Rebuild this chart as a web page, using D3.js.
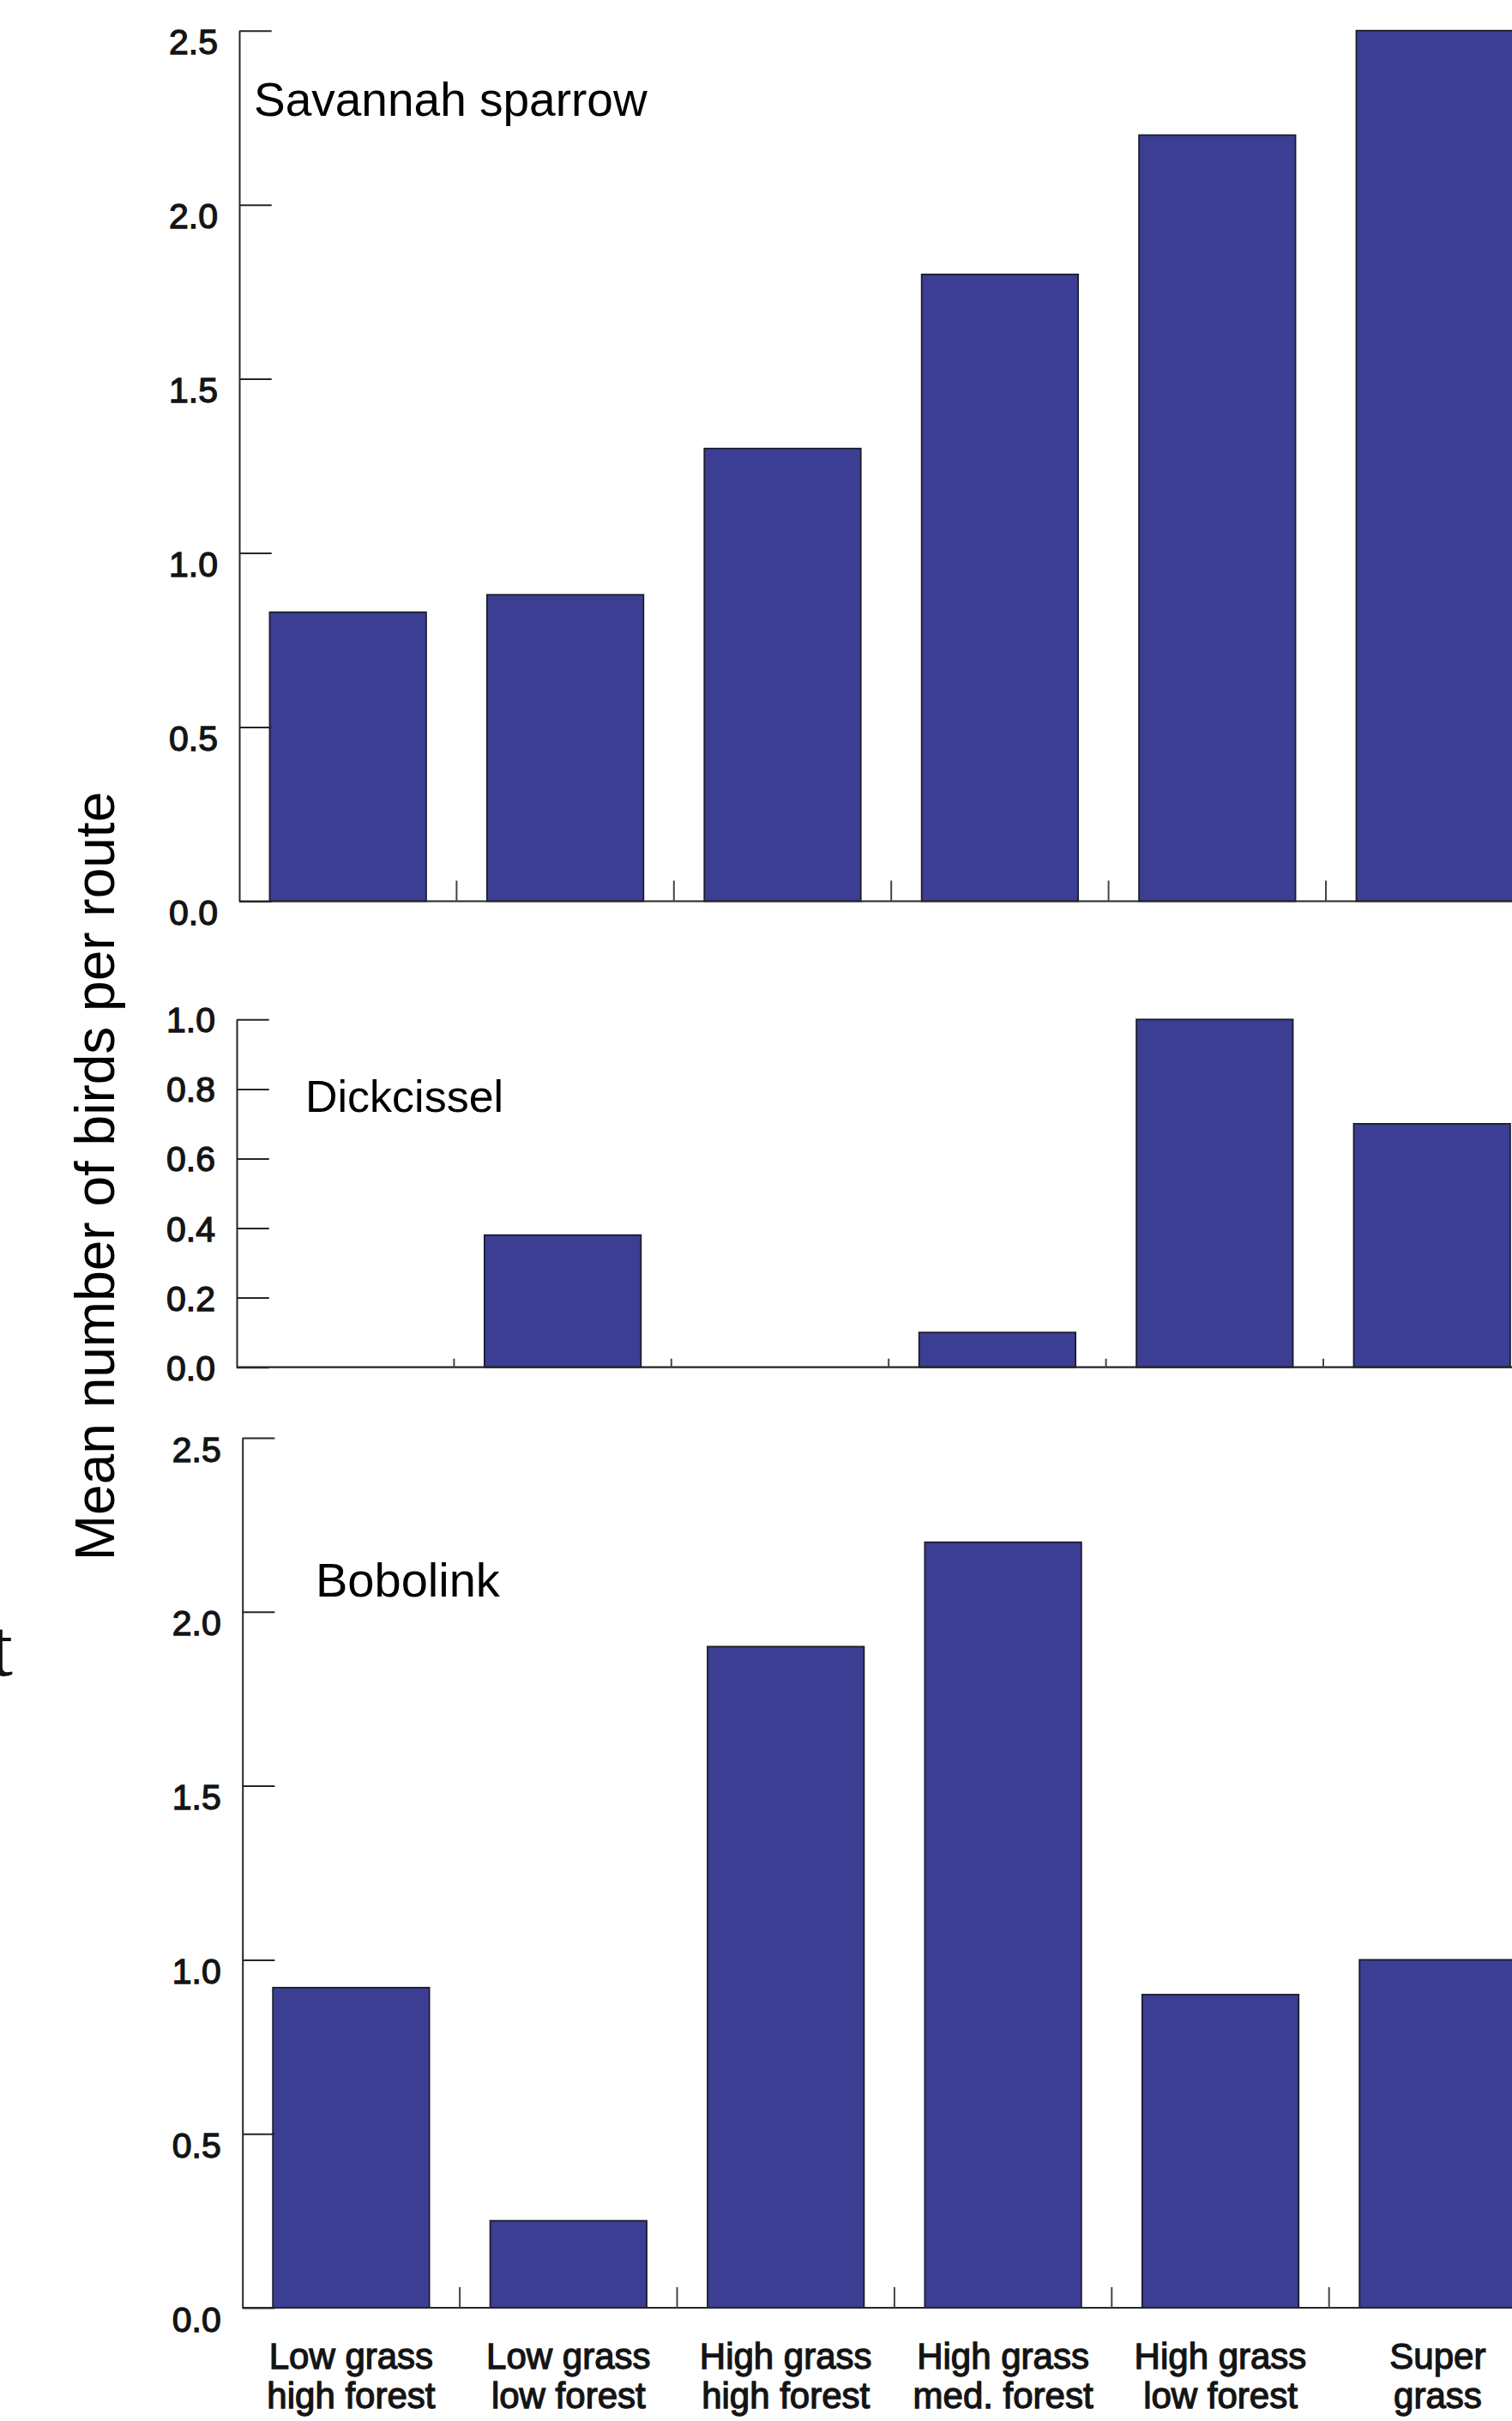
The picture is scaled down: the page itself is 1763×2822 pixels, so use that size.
<!DOCTYPE html>
<meta charset="utf-8">
<title>Mean number of birds per route</title>
<style>
  body { margin: 0; padding: 0; background: #fff; }
  svg { display: block; }
  .species { font-family: 'Liberation Sans', Arial, sans-serif; fill: #000; }
  .ticklab { font-family: 'Liberation Sans', Arial, sans-serif; font-size: 41px; fill: #141414; stroke: #141414; stroke-width: 1.3px; }
</style>
<body>
<div id="chart"></div>
<script src="https://cdn.jsdelivr.net/npm/d3@7"></script>
<script>

var W = 1763, H = 2822;

// categories (two text lines each)
var catTop = ['Low grass','Low grass','High grass','High grass','High grass','Super'],
    catBottom = ['high forest','low forest','high forest','med. forest','low forest','grass'],
    categories = catTop.map(function(t, i) { return t + ' ' + catBottom[i]; });

// series values
var savannah = [0.83, 0.88, 1.30, 1.80, 2.20, 2.50],
    dickcissel = [0.00, 0.38, 0.00, 0.10, 1.00, 0.70],
    bobolink = [0.92, 0.25, 1.90, 2.20, 0.90, 1.00];

// tick values of each panel
var ticksSavannah = [0, 0.5, 1.0, 1.5, 2.0, 2.5],
    ticksDickcissel = [0, 0.2, 0.4, 0.6, 0.8, 1.0],
    ticksBobolink = [0, 0.5, 1.0, 1.5, 2.0, 2.5];

var barFill = '#3b3e92', barStroke = '#1d1d2b', axisColor = '#262626';

var svg = d3.select('#chart').append('svg')
    .attr('width', W).attr('height', H);

svg.append('rect').attr('width', W).attr('height', H).attr('fill', '#fff');

// one panel per species
var panels = [
  { name: 'Savannah sparrow', values: savannah, ticks: ticksSavannah, max: 2.5,
    x0: 279, y0: 1050.5, yTop: 35.7, labX: 296, labY: 135, labSize: 55, tickLen: 24, dy: 27 },
  { name: 'Dickcissel', values: dickcissel, ticks: ticksDickcissel, max: 1.0,
    x0: 276, y0: 1593.7, yTop: 1188.3, labX: 356, labY: 1296, labSize: 52, tickLen: 10, dy: 14.5 },
  { name: 'Bobolink', values: bobolink, ticks: ticksBobolink, max: 2.5,
    x0: 282.7, y0: 2690, yTop: 1676, labX: 368, labY: 1861, labSize: 56, tickLen: 24, dy: 27 }
];

var step = 253.4;

panels.forEach(function(p, pi) {
  var x = d3.scaleBand()
      .domain(categories)
      .range([p.x0, p.x0 + step * categories.length])
      .paddingInner(0.28)
      .paddingOuter(0.14);

  var y = d3.scaleLinear()
      .domain([0, p.max])
      .range([p.y0, p.yTop]);

  var g = svg.append('g').attr('class', 'panel');

  // bars
  g.selectAll('rect.bar')
    .data(p.values)
    .enter().append('rect')
      .attr('class', 'bar')
      .attr('x', function(d, i) { return x(categories[i]); })
      .attr('y', function(d) { return y(d); })
      .attr('width', x.bandwidth())
      .attr('height', function(d) { return y(0) - y(d); })
      .attr('fill', barFill)
      .attr('stroke', barStroke)
      .attr('stroke-width', 1.8);

  // baseline running off to the right edge
  g.append('line')
    .attr('x1', p.x0).attr('x2', W + 20)
    .attr('y1', y(0)).attr('y2', y(0))
    .attr('stroke', axisColor).attr('stroke-width', 2.2);

  // category separators, pointing up
  g.selectAll('line.sep')
    .data(categories.slice(1))
    .enter().append('line')
      .attr('class', 'sep')
      .attr('x1', function(c) { return x(c) - x.step() * x.paddingInner() / 2; })
      .attr('x2', function(c) { return x(c) - x.step() * x.paddingInner() / 2; })
      .attr('y1', y(0)).attr('y2', y(0) - p.tickLen)
      .attr('stroke', '#444').attr('stroke-width', 2);

  // y axis, ticks inward
  var ax = g.append('g')
      .attr('transform', 'translate(' + p.x0 + ',0)')
      .call(d3.axisLeft(y)
        .tickValues(p.ticks)
        .tickFormat(d3.format('.1f'))
        .tickSizeInner(-37.7)
        .tickSizeOuter(0)
        .tickPadding(25));
  ax.select('.domain').attr('stroke', axisColor).attr('stroke-width', 2);
  ax.selectAll('.tick line').attr('stroke', axisColor).attr('stroke-width', 2);
  ax.selectAll('.tick text')
    .attr('class', 'ticklab')
    .attr('dy', null)
    .attr('y', p.dy);
  ax.attr('font-family', null).attr('font-size', null);

  // species name
  g.append('text')
    .attr('class', 'species')
    .attr('x', p.labX).attr('y', p.labY)
    .style('font-size', p.labSize + 'px')
    .text(p.name);

  // category labels under the last panel
  if (pi === panels.length - 1) {
    var lab = g.selectAll('text.cat')
      .data(categories)
      .enter().append('text')
        .attr('class', 'ticklab cat')
        .attr('text-anchor', 'middle')
        .style('font-size', '42px')
        .attr('x', function(c) { return x(c) + x.bandwidth() / 2; })
        .attr('y', 2761);
    lab.append('tspan')
      .text(function(c, i) { return catTop[i]; });
    lab.append('tspan')
      .attr('x', function(c) { return x(c) + x.bandwidth() / 2; })
      .attr('dy', 46)
      .text(function(c, i) { return catBottom[i]; });
  }
});

// shared y title
svg.append('text')
  .attr('transform', 'translate(132.7,1371) rotate(-90)')
  .attr('text-anchor', 'middle')
  .style('font-family', "'Liberation Sans', Arial, sans-serif")
  .style('font-size', '64px')
  .attr('fill', '#000')
  .text('Mean number of birds per route');

// stray letter cut off at the left edge, as in the source
svg.append('text')
  .attr('x', 15).attr('y', 1953)
  .attr('text-anchor', 'end')
  .style('font-family', "'Liberation Serif', 'Times New Roman', serif")
  .style('font-size', '95px')
  .attr('fill', '#111')
  .text('t');

</script>
</body>
